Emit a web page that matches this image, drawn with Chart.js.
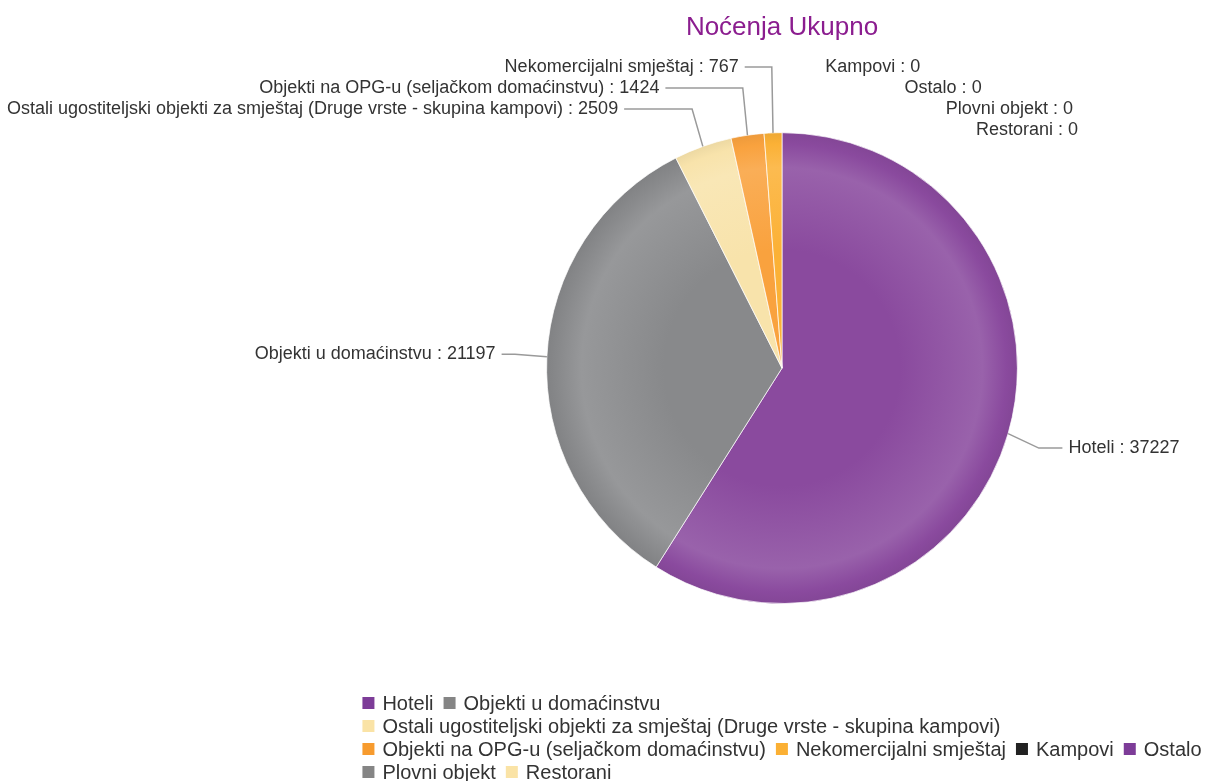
<!DOCTYPE html>
<html lang="hr">
<head>
    <meta charset="UTF-8">
    <title>Noćenja Ukupno</title>
    <style>
        body { margin: 0; background: #fff; }
        #chart-container { width: 1215px; height: 781px; }
    </style>
</head>
<body>
    <div id="chart-container">
        <canvas id="pieChart"></canvas>
    </div>

    <script src="https://cdn.jsdelivr.net/npm/chart.js"></script>

    <script>
        // data
        const categories = [
            'Hoteli',
            'Objekti u domaćinstvu',
            'Ostali ugostiteljski objekti za smještaj (Druge vrste - skupina kampovi)',
            'Objekti na OPG-u (seljačkom domaćinstvu)',
            'Nekomercijalni smještaj',
            'Kampovi',
            'Ostalo',
            'Plovni objekt',
            'Restorani'
        ];
        const values = [37227, 21197, 2509, 1424, 767, 0, 0, 0, 0];
        const sliceColors = ['#8a4a9e', '#88898b', '#f8e3ab', '#f9a23e', '#fbb136', '#2a2a2a', '#8a4a9e', '#88898b', '#f8e3ab'];
        const legendColors = ['#7d3c98', '#858585', '#fae3a6', '#f79b2e', '#fbb034', '#222222', '#7d3c98', '#858585', '#fae3a6'];

        const FONT = "'Liberation Sans', Arial, sans-serif";
        Chart.defaults.font.family = FONT;

        function mix(hex, target, t) {
            const a = parseInt(hex.slice(1), 16), b = parseInt(target.slice(1), 16);
            const ch = (v, s) => (v >> s) & 255;
            const r = Math.round(ch(a, 16) + (ch(b, 16) - ch(a, 16)) * t);
            const g = Math.round(ch(a, 8) + (ch(b, 8) - ch(a, 8)) * t);
            const bl = Math.round(ch(a, 0) + (ch(b, 0) - ch(a, 0)) * t);
            return 'rgb(' + r + ',' + g + ',' + bl + ')';
        }

        // radial shading like the original (lighter band near the rim)
        function shaded(context) {
            const chart = context.chart;
            const area = chart.chartArea;
            const base = sliceColors[context.dataIndex];
            if (!area) return base;
            const cx = (area.left + area.right) / 2;
            const cy = (area.top + area.bottom) / 2;
            const r = Math.min(area.right - area.left, area.bottom - area.top) / 2;
            const g = chart.ctx.createRadialGradient(cx, cy, 0, cx, cy, r);
            g.addColorStop(0, base);
            g.addColorStop(0.5, base);
            g.addColorStop(0.85, mix(base, '#ffffff', 0.13));
            g.addColorStop(0.95, base);
            g.addColorStop(1, mix(base, '#000000', 0.05));
            return g;
        }

        // spread overlapping labels around the mean of their natural positions
        function distribute(items, gap, minY) {
            items.sort((a, b) => a.natural - b.natural);
            let groups = items.map(i => ({ items: [i], y: i.natural }));
            const top = g => Math.max(g.y - (g.items.length - 1) * gap / 2, minY);
            let merged = true;
            while (merged) {
                merged = false;
                for (let i = 0; i < groups.length - 1; i++) {
                    const g1 = groups[i], g2 = groups[i + 1];
                    const end1 = top(g1) + (g1.items.length - 1) * gap;
                    if (top(g2) - end1 < gap) {
                        const all = g1.items.concat(g2.items);
                        groups.splice(i, 2, { items: all, y: all.reduce((s, it) => s + it.natural, 0) / all.length });
                        merged = true;
                        break;
                    }
                }
            }
            groups.forEach(g => {
                const t = top(g);
                g.items.forEach((it, k) => { it.y = t + k * gap; });
            });
        }

        const outsideLabels = {
            id: 'outsideLabels',
            afterDatasetsDraw(chart) {
                const ctx = chart.ctx;
                const arcs = chart.getDatasetMeta(0).data;
                const left = [], right = [];
                let cx = 0, cy = 0, r = 0;
                arcs.forEach((arc, i) => {
                    const p = arc.getProps(['x', 'y', 'startAngle', 'endAngle', 'outerRadius'], true);
                    cx = p.x; cy = p.y; r = p.outerRadius;
                    const mid = (p.startAngle + p.endAngle) / 2;
                    const item = { i, mid, natural: p.y + Math.sin(mid) * (r + 52) };
                    (Math.cos(mid) > -0.001 ? right : left).push(item);
                });
                const gap = 21;
                distribute(left, gap, 67);
                distribute(right, gap, 67);

                const R = r + 68;
                ctx.save();
                ctx.font = '18px ' + FONT;
                ctx.textBaseline = 'middle';
                ctx.lineWidth = 1.5;
                ctx.strokeStyle = '#9a9a9a';
                const draw = (it, side) => {
                    const dy = it.y - cy;
                    const dx = Math.min(Math.sqrt(Math.max(R * R - dy * dy, 0)), r + 45);
                    const lx = cx + side * dx;
                    if (values[it.i] > 0) {
                        const ex = cx + Math.cos(it.mid) * r, ey = cy + Math.sin(it.mid) * r;
                        const bx = cx + Math.cos(it.mid) * (r + 32);
                        ctx.beginPath();
                        ctx.moveTo(ex, ey);
                        ctx.lineTo(bx, it.y);
                        ctx.lineTo(lx, it.y);
                        ctx.stroke();
                    }
                    ctx.fillStyle = '#333333';
                    ctx.textAlign = side > 0 ? 'left' : 'right';
                    ctx.fillText(categories[it.i] + ' : ' + values[it.i], lx + side * 6, it.y);
                };
                left.forEach(it => draw(it, -1));
                right.forEach(it => draw(it, 1));
                ctx.restore();
            }
        };

        // left-aligned, wrapping legend block under the pie
        const blockLegend = {
            id: 'blockLegend',
            afterDraw(chart) {
                const ctx = chart.ctx;
                const area = chart.chartArea;
                const cx = (area.left + area.right) / 2;
                const box = 12, boxGap = 8, itemGap = 10, maxW = 900, rowH = 23;
                ctx.save();
                ctx.font = '20px ' + FONT;
                ctx.textBaseline = 'middle';
                const rows = [[]];
                let rowW = 0;
                categories.forEach((name, i) => {
                    const w = box + boxGap + ctx.measureText(name).width;
                    if (rows[rows.length - 1].length && rowW + itemGap + w > maxW) {
                        rows.push([]);
                        rowW = 0;
                    }
                    rowW += (rowW ? itemGap : 0) + w;
                    rows[rows.length - 1].push({ i, w });
                });
                const widths = rows.map(row => row.reduce((s, it) => s + it.w, 0) + (row.length - 1) * itemGap);
                const x0 = cx - Math.max(...widths) / 2;
                let y = 703;
                rows.forEach(row => {
                    let x = x0;
                    row.forEach(it => {
                        ctx.fillStyle = legendColors[it.i];
                        ctx.fillRect(x, y - box / 2, box, box);
                        ctx.fillStyle = '#333333';
                        ctx.textAlign = 'left';
                        ctx.fillText(categories[it.i], x + box + boxGap, y + 1);
                        x += it.w + itemGap;
                    });
                    y += rowH;
                });
                ctx.restore();
            }
        };

        const ctx = document.getElementById('pieChart').getContext('2d');
        const pieChart = new Chart(ctx, {
            type: 'pie',
            data: {
                labels: categories,
                datasets: [{
                    data: values,
                    backgroundColor: shaded,
                    borderColor: 'rgba(255,255,255,0.7)',
                    borderWidth: values.map(v => v > 0 ? 1 : 0)
                }]
            },
            options: {
                responsive: true,
                maintainAspectRatio: false,
                animation: false,
                events: [],
                layout: {
                    padding: { left: 349, right: 0, top: 0, bottom: 177 }
                },
                plugins: {
                    legend: { display: false },
                    tooltip: { enabled: false },
                    title: {
                        display: true,
                        text: 'Noćenja Ukupno',
                        color: '#8b1d8f',
                        font: { size: 26, weight: 'normal', family: FONT },
                        padding: { top: 12, bottom: 89 }
                    }
                }
            },
            plugins: [outsideLabels, blockLegend]
        });
    </script>
</body>
</html>
